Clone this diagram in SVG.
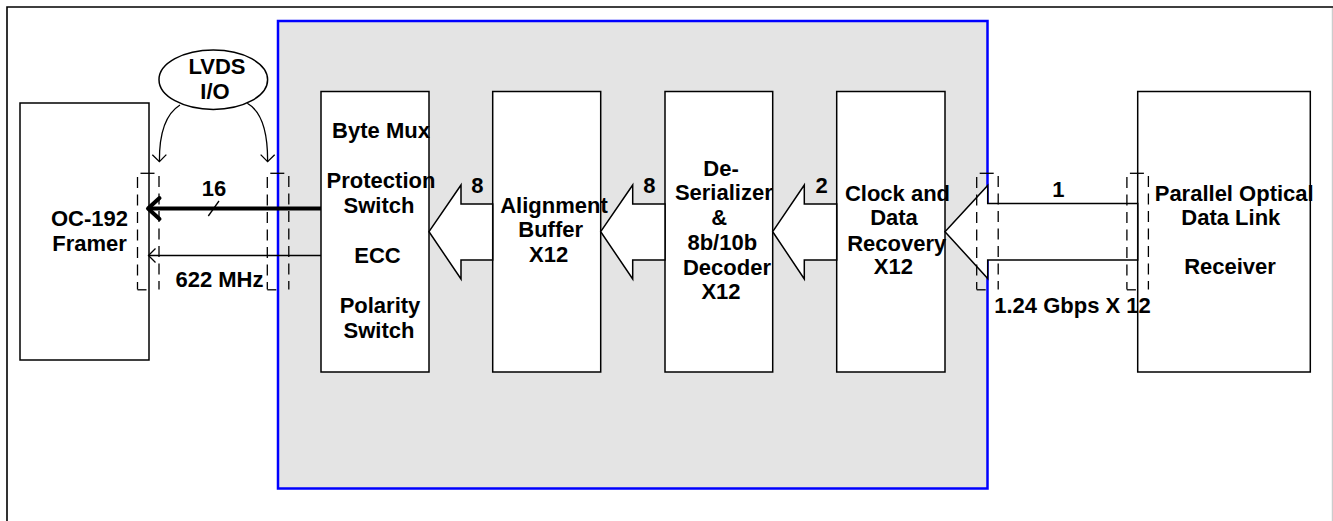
<svg xmlns="http://www.w3.org/2000/svg" xmlns:xlink="http://www.w3.org/1999/xlink" width="1333" height="521" viewBox="0 0 1333 521">
  <style>
    .box { fill: #ffffff; stroke: #000000; stroke-width: 1.5; }
    .lbl { font-family: "Liberation Sans", Arial, sans-serif; font-weight: bold; font-size: 22px; fill: #000000; text-anchor: middle; }
    .wire { fill: none; stroke: #000000; stroke-width: 1.3; }
    .dash { fill: none; stroke: #000000; stroke-width: 1.3; stroke-dasharray: 11 6.5; }
    .blk { fill: #ffffff; stroke: #000000; stroke-width: 1.5; stroke-linejoin: miter; }
  </style>
  <defs>
    <marker id="vThin" markerUnits="userSpaceOnUse" markerWidth="20" markerHeight="20" viewBox="-10 -10 20 20" refX="0" refY="0" orient="auto" overflow="visible">
      <path d="M-7,-7 L0,0 L-7,7" fill="none" stroke="#000" stroke-width="1.3"/>
    </marker>
    <marker id="vThick" markerUnits="userSpaceOnUse" markerWidth="30" markerHeight="30" viewBox="-15 -15 30 30" refX="0" refY="0" orient="auto" overflow="visible">
      <path d="M-11.5,-10.5 L0,0 L-11.5,10.5" fill="none" stroke="#000" stroke-width="4" stroke-linejoin="round" stroke-linecap="round"/>
    </marker>
    <!-- connector symbol: two dashed rails with end ticks -->
    <g id="port">
      <line class="dash" x1="0" y1="177" x2="0" y2="289.5"/>
      <line class="dash" x1="21.5" y1="176" x2="21.5" y2="289.5"/>
      <line class="wire" x1="3" y1="173.3" x2="17" y2="173.3"/>
      <line class="wire" x1="0" y1="289.8" x2="9" y2="289.8"/>
    </g>
  </defs>

  <rect x="0" y="0" width="1333" height="521" fill="#ffffff"/>
  <!-- page frame -->
  <path d="M7,521 V7 H1333" fill="none" stroke="#000" stroke-width="1.6"/>
  <line x1="1332.3" y1="8" x2="1332.3" y2="521" stroke="#c0c0c0" stroke-width="1"/>

  <!-- receiver chip area -->
  <rect id="chip" x="278" y="21" width="709.5" height="467.5" fill="#e4e4e4" stroke="#0000ff" stroke-width="2.5"/>

  <g id="framer">
    <rect class="box" x="20" y="103" width="129" height="257"/>
    <text class="lbl" x="89.5" y="226">OC-192</text>
    <text class="lbl" x="89.5" y="250.5">Framer</text>
  </g>

  <g id="lvds">
    <ellipse cx="213.3" cy="79.7" rx="54.3" ry="29.7" fill="#ffffff" stroke="#000" stroke-width="1.5"/>
    <text class="lbl" x="217" y="74">LVDS</text>
    <text class="lbl" x="215" y="99">I/O</text>
  </g>

  <g id="bytemux">
    <rect class="box" x="321" y="91.5" width="108" height="280.5"/>
    <text class="lbl" x="381" y="137.7">Byte Mux</text>
    <text class="lbl" x="381" y="188.3">Protection</text>
    <text class="lbl" x="379" y="212.7">Switch</text>
    <text class="lbl" x="377.5" y="263.3">ECC</text>
    <text class="lbl" x="380" y="313.3">Polarity</text>
    <text class="lbl" x="379" y="337.7">Switch</text>
  </g>

  <g id="align">
    <rect class="box" x="492.7" y="91.5" width="108" height="280.5"/>
    <text class="lbl" x="554" y="212.7">Alignment</text>
    <text class="lbl" x="550.7" y="237.3">Buffer</text>
    <text class="lbl" x="548.7" y="262">X12</text>
  </g>

  <g id="deser">
    <rect class="box" x="665" y="91.5" width="107.7" height="280.5"/>
    <text class="lbl" x="721" y="176">De-</text>
    <text class="lbl" x="723.8" y="200">Serializer</text>
    <text class="lbl" x="719.3" y="225.3">&amp;</text>
    <text class="lbl" x="722.3" y="250">8b/10b</text>
    <text class="lbl" x="727" y="274.5">Decoder</text>
    <text class="lbl" x="721" y="299">X12</text>
  </g>

  <g id="cdr">
    <rect class="box" x="836.7" y="91.5" width="108.3" height="280.5"/>
    <text class="lbl" x="897.5" y="200.7">Clock and</text>
    <text class="lbl" x="894" y="225.3">Data</text>
    <text class="lbl" x="896.7" y="250.5">Recovery</text>
    <text class="lbl" x="893.3" y="274.3">X12</text>
  </g>

  <g id="optical">
    <rect class="box" x="1137.7" y="91.5" width="172.6" height="280.5"/>
    <text class="lbl" x="1234.2" y="200.7">Parallel Optical</text>
    <text class="lbl" x="1230.8" y="225.3">Data Link</text>
    <text class="lbl" x="1230" y="274.3">Receiver</text>
  </g>

  <g id="connectors">
    <!-- wide data-path arrows -->
    <polygon class="blk" points="945,231.7 987.7,185.5 987.7,203.5 1137.7,203.5 1137.7,260 987.7,260 987.7,278.5"/>
    <polygon class="blk" points="772.7,231.7 804.3,185 804.3,204 836.7,204 836.7,260 804.3,260 804.3,279"/>
    <polygon class="blk" points="600.7,231.7 632.7,185 632.7,204 665,204 665,260 632.7,260 632.7,279"/>
    <polygon class="blk" points="429,231.7 461,185 461,204 492.7,204 492.7,260 461,260 461,279"/>

    <!-- 16-bit bus and clock to the framer -->
    <line x1="321" y1="208.5" x2="148" y2="208.5" stroke="#000" stroke-width="4" marker-end="url(#vThick)"/>
    <line x1="208.3" y1="216" x2="219" y2="201" stroke="#000" stroke-width="1.3"/>
    <line class="wire" x1="321" y1="255.5" x2="148.5" y2="255.5" marker-end="url(#vThin)"/>

    <!-- LVDS call-out arrows -->
    <path class="wire" d="M180,105 Q159,118 159.4,161.7" marker-end="url(#vThin)"/>
    <path class="wire" d="M247.3,103.3 Q268,115 267.6,161.7" marker-end="url(#vThin)"/>

    <!-- port symbols -->
    <use xlink:href="#port" x="137.5"/>
    <use xlink:href="#port" x="267.3"/>
    <use xlink:href="#port" x="976.7"/>
    <use xlink:href="#port" x="1126.9"/>
  </g>

  <g id="labels">
    <text class="lbl" x="214" y="196">16</text>
    <text class="lbl" x="219.5" y="287.3">622 MHz</text>
    <text class="lbl" x="477.3" y="192.7">8</text>
    <text class="lbl" x="649.3" y="192.7">8</text>
    <text class="lbl" x="821.7" y="192.7">2</text>
    <text class="lbl" x="1058.3" y="196.7">1</text>
    <text class="lbl" x="1072.5" y="313.3">1.24 Gbps X 12</text>
  </g>
</svg>
